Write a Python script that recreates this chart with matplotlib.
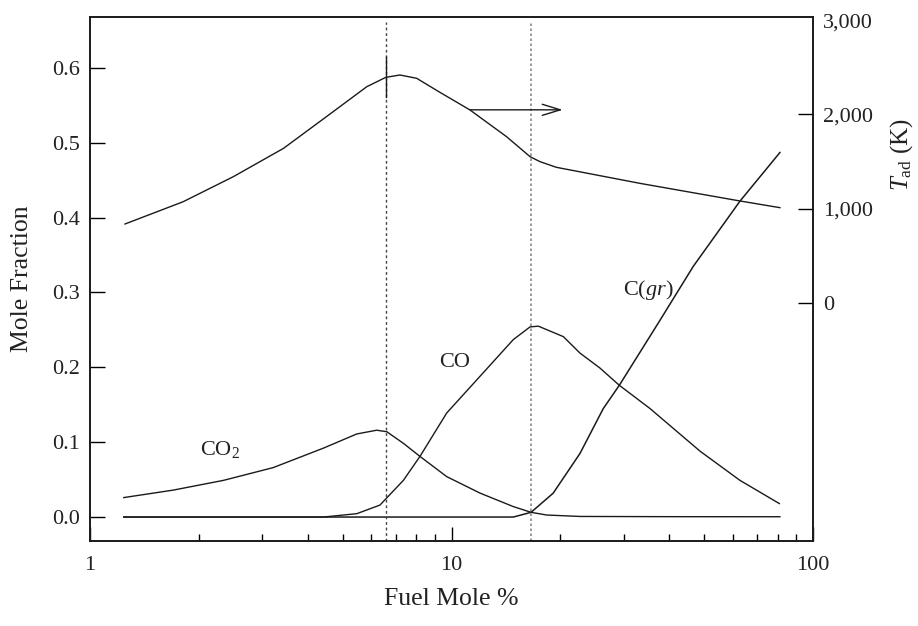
import numpy as np
import matplotlib.pyplot as plt

plt.rcParams['font.family'] = ['Liberation Serif', 'DejaVu Serif']
plt.rcParams['mathtext.fontset'] = 'custom'
plt.rcParams['mathtext.rm'] = 'Liberation Serif'
plt.rcParams['mathtext.it'] = 'Liberation Serif:italic'
plt.rcParams['mathtext.bf'] = 'Liberation Serif:bold'

# adiabatic flame temperature (right axis)
x_t = [1.25, 1.81, 2.49, 3.43, 4.71, 5.83, 6.58, 7.20, 8.01, 9.29,
       9.91, 11.25, 14.2, 16.5, 17.6, 19.5, 33.2, 62.8, 81.0]
tad = [838, 1074, 1339, 1640, 2030, 2294, 2393, 2418, 2383, 2234,
       2171, 2047, 1764, 1551, 1498, 1439, 1269, 1082, 1011]

# mole fractions (left axis)
x_co2 = [1.24, 1.70, 2.34, 3.21, 4.42, 5.47, 6.21, 6.62, 7.36, 8.18, 9.70,
         11.99, 14.82, 16.6, 18.34, 22.67, 40.0, 81.0]
co2 = [0.026, 0.036, 0.049, 0.066, 0.092, 0.111, 0.116, 0.114, 0.0985, 0.081,
       0.054, 0.032, 0.014, 0.0063, 0.0027, 0.0008, 0.0005, 0.0004]

x_co = [1.24, 4.42, 5.47, 6.34, 7.36, 8.18, 9.70, 11.99, 14.82, 16.49, 17.39,
        20.39, 22.67, 25.75, 29.12, 35.4, 48.7, 62.8, 80.7]
co = [0.0, 0.0, 0.0045, 0.016, 0.049, 0.081, 0.139, 0.188, 0.237, 0.254, 0.255,
      0.241, 0.219, 0.199, 0.176, 0.145, 0.088, 0.049, 0.018]

x_cgr = [1.24, 14.82, 16.6, 19.12, 22.67, 26.3, 29.12, 37.75, 46.66, 62.8, 81.0]
cgr = [0.0, 0.0, 0.0063, 0.032, 0.085, 0.145, 0.176, 0.263, 0.335, 0.422, 0.487]

x_marks = [6.59, 16.6]

fig = plt.figure(figsize=(9.18, 6.26), dpi=100)
fig.subplots_adjust(left=90/918, right=813/918, top=1-17/626, bottom=1-541/626)
ax = fig.add_subplot(111)
ax2 = ax.twinx()

ax.set_xscale('log')
ax.set_xlim(1, 100)
ax.set_ylim(-0.032, 0.668)
ax2.set_ylim(-2524, 3033)

lc = '#1a1a1a'
ax.plot(x_co2, co2, color=lc, lw=1.0)
ax.plot(x_co, co, color=lc, lw=1.0)
ax.plot(x_cgr, cgr, color=lc, lw=1.1)
ax2.plot(x_t, tad, color=lc, lw=1.0)
# short tick on the temperature peak
ax2.plot([x_marks[0], x_marks[0]], [2185, 2609], color=lc, lw=1.0)

ax.axvline(x_marks[0], ymin=0, ymax=0.99, color='#444444', lw=1.0,
           linestyle=(0, (2, 2)))
ax.axvline(x_marks[1], ymin=0, ymax=0.99, color='#888888', lw=1.2,
           linestyle=(0, (1.5, 1.5)))

ax.annotate('', xy=(20.3, 0.544), xytext=(11.25, 0.544),
            arrowprops=dict(arrowstyle='->,head_length=0.65,head_width=0.2',
                            mutation_scale=20, lw=1.0, color=lc,
                            shrinkA=0, shrinkB=0))

tc = '#222222'
ax.text(2.29, 0.090, 'CO$_2$', fontsize=16, ha='center', va='center', color=tc)
ax.text(10.2, 0.207, 'CO', fontsize=16, ha='center', va='center', color=tc)
ax.text(35, 0.303, 'C($gr$)', fontsize=16, ha='center', va='center', color=tc)

ax.set_yticks([0.0, 0.1, 0.2, 0.3, 0.4, 0.5, 0.6])
ax.set_yticklabels(['0.0', '0.1', '0.2', '0.3', '0.4', '0.5', '0.6'])
ax.set_xticks([1, 10, 100])
ax.set_xticklabels(['1', '10', '100'])
ax2.set_yticks([0, 1000, 2000, 3000])
ax2.set_yticklabels(['0', '1,000', '2,000', '3,000'])

ax.tick_params(axis='x', which='major', direction='in', length=10, width=1,
               labelsize=16, pad=11, top=False, labelcolor=tc)
ax.tick_params(axis='x', which='minor', direction='in', length=5, width=1, top=False)
ax.tick_params(axis='y', direction='in', length=11, width=1, labelsize=16,
               pad=7, right=False, labelcolor=tc)
ax2.tick_params(axis='y', direction='in', length=11, width=1, labelsize=16,
                pad=7, labelcolor=tc)
ax2.yaxis.get_major_ticks()[-1].tick2line.set_visible(False)

for a in (ax, ax2):
    for s in a.spines.values():
        s.set_linewidth(1.2)
        s.set_color('#1a1a1a')

ax.set_xlabel('Fuel Mole %', fontsize=18.5, labelpad=9, color=tc)
ax.set_ylabel('Mole Fraction', fontsize=18.5, labelpad=14, color=tc)
ax2.set_ylabel('$T_{\\mathrm{ad}}$ (K)', fontsize=18, color=tc)
ax2.yaxis.set_label_coords(1.104, 0.737)

fig.savefig('out.png', dpi=100)
